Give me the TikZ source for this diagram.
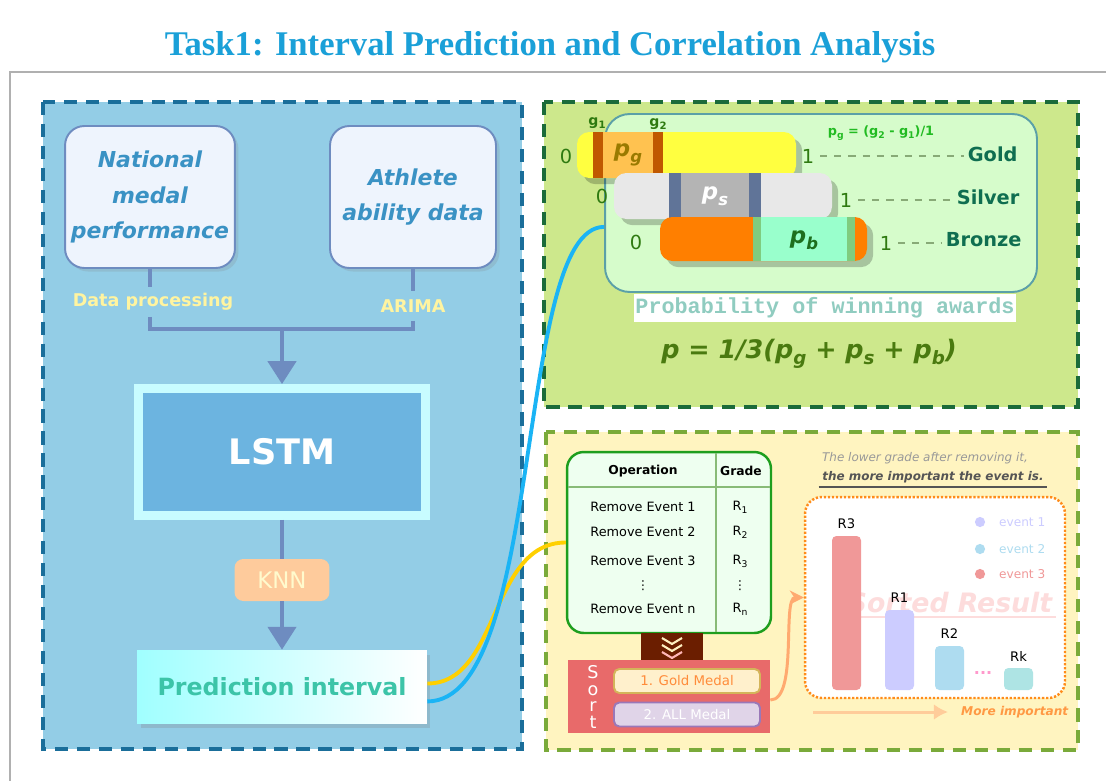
\documentclass[tikz,border=0pt]{standalone}
\usepackage{fontspec}
\usepackage{graphicx}
\setmainfont{DejaVu Sans}
\setmonofont{Liberation Mono}
\newfontfamily\titlefont{Liberation Serif}
\usetikzlibrary{arrows.meta,positioning,shadows,calc}

\definecolor{titleblue}{HTML}{1AA0D8}
\definecolor{framegray}{HTML}{B0B0B0}
\definecolor{lpfill}{HTML}{93CDE6}
\definecolor{lpborder}{HTML}{1A6E9A}
\definecolor{natfill}{HTML}{EEF4FD}
\definecolor{natborder}{HTML}{6E8CC0}
\definecolor{nattext}{HTML}{3A92C4}
\definecolor{lblyellow}{HTML}{FFF4A0}
\definecolor{lstmouter}{HTML}{C8FCFF}
\definecolor{lstminner}{HTML}{6CB4E0}
\definecolor{knnfill}{HTML}{FECB9C}
\definecolor{knntext}{HTML}{FFFACD}
\definecolor{predcyan}{HTML}{A0FFFF}
\definecolor{predtext}{HTML}{3CC4A8}
\definecolor{trfill}{HTML}{CDE88C}
\definecolor{trborder}{HTML}{1B6B3A}
\definecolor{probfill}{HTML}{D6FCCB}
\definecolor{probborder}{HTML}{5BA0A8}
\definecolor{goldbar}{HTML}{FFFF40}
\definecolor{goldseg}{HTML}{FFC250}
\definecolor{goldedge}{HTML}{C05800}
\definecolor{goldtext}{HTML}{9A7A00}
\definecolor{silverbar}{HTML}{E8E8E8}
\definecolor{silverseg}{HTML}{B4B4B4}
\definecolor{silveredge}{HTML}{607498}
\definecolor{bronzebar}{HTML}{FF7F00}
\definecolor{bronzeseg}{HTML}{99FFCC}
\definecolor{bronzeedge}{HTML}{7FCC7F}
\definecolor{bronzetext}{HTML}{1E6E1E}
\definecolor{tickgreen}{HTML}{2E7A10}
\definecolor{medaltext}{HTML}{0F6E50}
\definecolor{dashgreen}{HTML}{88AA77}
\definecolor{pgformula}{HTML}{22BB22}
\definecolor{probtext}{HTML}{90CCC0}
\definecolor{formulagreen}{HTML}{4A7A10}
\definecolor{brfill}{HTML}{FFF4C0}
\definecolor{brborder}{HTML}{7AAA3A}
\definecolor{tblfill}{HTML}{EEFFF0}
\definecolor{tblborder}{HTML}{1E9E1E}
\definecolor{tblrule}{HTML}{88BB77}
\definecolor{brownblk}{HTML}{6B1E00}
\definecolor{chevyellow}{HTML}{FFEFC0}
\definecolor{chevpink}{HTML}{FFB6B6}
\definecolor{sortred}{HTML}{E86A6A}
\definecolor{goldmfill}{HTML}{FFF0CC}
\definecolor{goldmborder}{HTML}{D4B45A}
\definecolor{goldmtext}{HTML}{FF8C3A}
\definecolor{allmfill}{HTML}{E0D4E8}
\definecolor{allmborder}{HTML}{9A78B8}
\definecolor{curveorange}{HTML}{FFAA70}
\definecolor{dotorange}{HTML}{FF8C1A}
\definecolor{notegray}{HTML}{999999}
\definecolor{notedark}{HTML}{555555}
\definecolor{barthree}{HTML}{F09898}
\definecolor{barone}{HTML}{CCCCFF}
\definecolor{bartwo}{HTML}{AEDCF0}
\definecolor{bark}{HTML}{AEE4E4}
\definecolor{wmpink}{HTML}{FDDCDC}
\definecolor{dotpink}{HTML}{FF99CC}
\definecolor{miarrow}{HTML}{FFCC9A}
\definecolor{mitext}{HTML}{FF9944}
\definecolor{curveyellow}{HTML}{FFD000}
\definecolor{curveblue}{HTML}{1AB4F5}

\newcommand{\sbs}[1]{\raisebox{-0.45ex}{\scalebox{0.72}{#1}}}

\begin{document}
\begin{tikzpicture}[
  x=0.02cm,y=-0.02cm,
  panel/.style={line width=2.6pt, dash pattern=on 7.5pt off 5pt},
  srcbox/.style={draw=natborder, line width=1.1pt, fill=natfill, rounded corners=11pt, minimum width=3.32cm, minimum height=2.84cm, align=center, text=nattext, font=\fontsize{12.5pt}{20pt}\selectfont\bfseries\itshape, drop shadow={shadow xshift=2pt, shadow yshift=-2pt, opacity=0.2}},
  steplbl/.style={text=lblyellow, font=\fontsize{10pt}{12pt}\selectfont\bfseries, inner sep=0pt, minimum height=16.4pt},
  conn/.style={draw=natborder, line width=2.3pt},
  arr/.style={conn, -{Triangle[width=16pt,length=13pt]}},
  lstmbox/.style={fill=lstminner, draw=lstmouter, line width=5.1pt, minimum width=5.74cm, minimum height=2.54cm, text=white, font=\fontsize{20pt}{24pt}\selectfont\bfseries},
  knnbox/.style={fill=knnfill, rounded corners=5pt, minimum width=1.9cm, minimum height=0.84cm, text=knntext, font=\fontsize{13pt}{15pt}\selectfont},
  predbox/.style={left color=predcyan, right color=white, minimum width=5.8cm, minimum height=1.46cm, text=predtext, font=\fontsize{13.5pt}{16pt}\selectfont\bfseries, drop shadow={shadow xshift=2pt, shadow yshift=-3pt, opacity=0.25}},
  probframe/.style={fill=probfill, draw=probborder, line width=1.1pt, rounded corners=14pt, minimum width=8.64cm, minimum height=3.56cm},
  tick/.style={text=tickgreen, font=\fontsize{11pt}{13pt}\selectfont},
  glbl/.style={text=tickgreen, font=\fontsize{8pt}{10pt}\selectfont\bfseries, inner sep=1pt},
  segtxt/.style={font=\fontsize{13pt}{15pt}\selectfont\bfseries\itshape},
  medal/.style={text=medaltext, font=\fontsize{11pt}{13pt}\selectfont\bfseries, anchor=west, inner xsep=2pt},
  medaldash/.style={dashgreen, line width=0.9pt, dash pattern=on 4pt off 4pt},
  tblbox/.style={fill=tblfill, draw=tblborder, line width=1.4pt, rounded corners=9.5pt, minimum width=4.08cm, minimum height=3.62cm},
  tblhead/.style={font=\fontsize{7pt}{9pt}\selectfont\bfseries},
  tblcell/.style={font=\fontsize{7.3pt}{9pt}\selectfont, inner sep=1pt},
  vdot/.style={inner sep=0pt, font=\fontsize{7pt}{8pt}\selectfont},
  sortlbl/.style={text=white, font=\fontsize{10pt}{9.4pt}\selectfont, inner sep=0pt, align=center},
  medalbtn/.style={line width=1.1pt, rounded corners=3pt, minimum width=2.92cm, minimum height=0.48cm, font=\fontsize{7.6pt}{9pt}\selectfont},
  resframe/.style={fill=white, draw=dotorange, line width=1.4pt, dash pattern=on 1.3pt off 1pt, rounded corners=9.5pt, minimum width=5.2cm, minimum height=4.02cm},
  barlbl/.style={font=\fontsize{7.5pt}{9pt}\selectfont, inner sep=1pt},
  legtxt/.style={font=\fontsize{6.9pt}{8pt}\selectfont, anchor=west}
]
\useasboundingbox (0,0) rectangle (1106,781);
\fill[white] (0,0) rectangle (1106,781);

% title and frame
\node[text=titleblue, font=\titlefont\bfseries\fontsize{19.7pt}{24pt}\selectfont] (title) at (550,47) {Task1: Interval Prediction and Correlation Analysis};
\draw[framegray, line width=0.9pt] (10,781) -- (10,72) -- (1106,72);

% left panel
\draw[panel, draw=lpborder, fill=lpfill] (43,102) rectangle (522,749);
\node[srcbox] (nat) at (150,197) {National\\medal\\performance};
\node[srcbox] (ath) at (413,197) {Athlete\\ability data};
\node[steplbl] (dproc) at (153,302) {Data processing};
\node[steplbl] (arima) at (413,306) {ARIMA};
\coordinate (join) at (282,329);
\node[lstmbox] (lstm) at (282,452) {LSTM};
\node[knnbox] (knn) at (282,580) {KNN};
\node[predbox] (pred) at (282,686.5) {Prediction interval};
\draw[conn] (nat.south) -- (nat.south |- dproc.north);
\draw[conn] (nat.south |- dproc.south) |- (join);
\draw[conn] (ath.south) -- (ath.south |- arima.north);
\draw[conn] (ath.south |- arima.south) |- (join);
\draw[arr] (join) -- (lstm.north);
\draw[conn] (lstm.south) -- (knn.north);
\draw[arr] (knn.south) -- (pred.north);

% top right panel
\draw[panel, draw=trborder, fill=trfill] (544,102) rectangle (1078,407);
\node[probframe] (probbox) at (821,203) {};
\foreach \xa/\xb/\ya/\yb/\ea/\eb/\ew/\barc/\segc/\edgec in {577/796/132/178/593/663/10/goldbar/goldseg/goldedge, 614/832/173/219/669/761/12/silverbar/silverseg/silveredge, 660/867/217/261/753/855/8/bronzebar/bronzeseg/bronzeedge}{
  \fill[\barc, rounded corners=7pt, drop shadow={shadow xshift=3.5pt, shadow yshift=-3.5pt, fill=black, opacity=0.22}] (\xa,\ya) rectangle (\xb,\yb);
  \begin{scope}
    \clip[rounded corners=7pt] (\xa,\ya) rectangle (\xb,\yb);
    \fill[\edgec] (\ea,\ya) rectangle (\eb,\yb);
    \fill[\segc] ({\ea+\ew},\ya) rectangle ({\eb-\ew},\yb);
  \end{scope}
}
\node[segtxt, text=goldtext] (pg) at (628,155) {p\sbs{g}};
\node[segtxt, text=white] (ps) at (715,196) {p\sbs{s}};
\node[segtxt, text=bronzetext] (pb) at (804,240) {p\sbs{b}};
\node[glbl] (ga) at (597,123) {g\sbs{1}};
\node[glbl] (gb) at (658,124) {g\sbs{2}};
\node[tick] (za) at (566,156) {0};
\node[tick] (zb) at (602,196) {0};
\node[tick] (zc) at (636,242) {0};
\node[tick] (oa) at (808,156) {1};
\node[tick] (ob) at (846,200) {1};
\node[tick] (oc) at (886,243) {1};
\node[medal] (gold) at (964,154) {Gold};
\node[medal] (silver) at (953,197) {Silver};
\node[medal] (bronze) at (942,240) {Bronze};
\draw[medaldash] (oa.east) -- (oa.east -| gold.west);
\draw[medaldash] (ob.east) -- (ob.east -| silver.west);
\draw[medaldash] (oc.east) -- (oc.east -| bronze.west);
\node[text=pgformula, font=\fontsize{7.3pt}{9pt}\selectfont\bfseries] (pgdef) at (881,133) {p\sbs{g} = (g\sbs{2} - g\sbs{1})/1};
\node[fill=white, text=probtext, font=\ttfamily\bfseries\fontsize{12.4pt}{14pt}\selectfont, inner xsep=1pt, inner ysep=2pt] (probcap) at (825,308) {Probability of winning awards};
\node[text=formulagreen, font=\fontsize{14.5pt}{17pt}\selectfont\bfseries\itshape] (ptotal) at (809,354) {p = 1/3(p\sbs{g} + p\sbs{s} + p\sbs{b})};

% bottom right panel
\draw[panel, draw=brborder, fill=brfill] (546,432) rectangle (1078,750);
\node[tblbox] (tbl) at (669,542.5) {};
\draw[tblrule, line width=0.9pt] (716,453) -- (716,632);
\draw[tblrule, line width=0.9pt] (568,487) -- (770,487);
\node[tblhead] at (643,471) {Operation};
\node[tblhead] at (741,471) {Grade};
\foreach \yy/\ev in {507/1,532/2,561/3,609/n}{
  \node[tblcell] at (643,\yy) {Remove Event \ev};
  \node[tblcell] at (740,\yy) {R\sbs{\ev}};
}
\node[vdot] at (643,586) {⋮};
\node[vdot] at (740,586) {⋮};
\node[fill=brownblk, minimum width=1.24cm, minimum height=0.56cm, inner sep=0pt] (chev) at (672,647) {};
\foreach \yy/\cc in {638/chevyellow,645/chevyellow,652/chevpink}{
  \draw[\cc, line width=1.2pt] (662,\yy) -- (672,{\yy+6}) -- (682,\yy);
}
\node[fill=sortred, minimum width=4.04cm, minimum height=1.46cm] (sortbox) at (669,696.5) {};
\node[sortlbl] (sortword) at (593,697) {S\\o\\r\\t};
\node[medalbtn, fill=goldmfill, draw=goldmborder, text=goldmtext] (goldm) at (687,681) {1. Gold Medal};
\node[medalbtn, fill=allmfill, draw=allmborder, text=white] (allm) at (687,714.5) {2. ALL Medal};

\node[text=notegray, font=\fontsize{6.8pt}{8pt}\selectfont\itshape] (notea) at (925,458) {The lower grade after removing it,};
\node[text=notedark, font=\fontsize{6.8pt}{8pt}\selectfont\bfseries\itshape, inner sep=2pt] (noteb) at (933,477) {the more important the event is.};
\draw[notedark, line width=1.1pt] (noteb.south west) -- (noteb.south east);

\node[resframe] (resbox) at (935,597.5) {};
\node[text=wmpink, font=\fontsize{15.2pt}{18pt}\selectfont\bfseries\itshape, inner sep=2pt] (wm) at (950,603) {Sorted Result};
\draw[wmpink, line width=1pt] (wm.south west) -- (wm.south east);
\foreach \xa/\top/\cc/\lbl in {832/536/barthree/R3, 885/610/barone/R1, 935/646/bartwo/R2, 1004/668/bark/Rk}{
  \fill[\cc, rounded corners=2.5pt] (\xa,\top) rectangle ({\xa+29},690);
  \node[barlbl] at ({\xa+14.5},{\top-12}) {\lbl};
}
\node[text=dotpink, font=\fontsize{9pt}{10pt}\selectfont\bfseries] (more) at (983,675) {···};
\foreach \yy/\cc/\nn in {522/barone/1,549/bartwo/2,574/barthree/3}{
  \fill[\cc] (980,\yy) circle[radius=2.9pt];
  \node[legtxt, text=\cc] at (993,\yy) {event \nn};
}
\coordinate (mistart) at (813,712);
\node[text=mitext, font=\fontsize{6.9pt}{9pt}\selectfont\bfseries\itshape, anchor=west] (milbl) at (955,712) {More important};
\draw[miarrow, line width=1.7pt, -{Latex[length=8pt,width=9pt]}, shorten >=4pt] (mistart) -- (milbl.west);

% connectors between panels
\draw[curveorange, line width=1.7pt, -{Stealth[length=8pt,width=8pt]}] ([yshift=-2pt]sortbox.east) .. controls +(28,0) and +(-22,0) .. (resbox.west);
\draw[curveyellow, line width=2.2pt] ([yshift=1.7pt]pred.east) .. controls +(73,0) and +(-77,0) .. (tbl.west);
\draw[curveblue, line width=2.2pt] ([yshift=-8.5pt]pred.east) .. controls +(118,0) and +(-90,0) .. ([yshift=-13.6pt]probbox.west);
\end{tikzpicture}
\end{document}
